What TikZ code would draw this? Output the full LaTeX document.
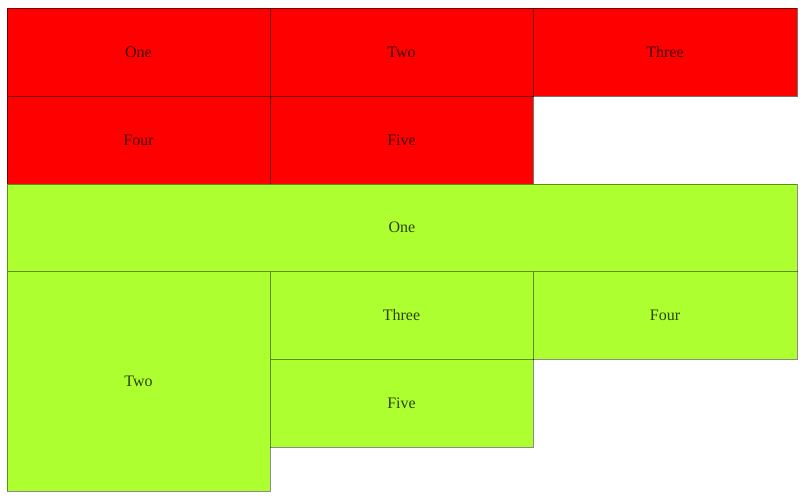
\documentclass[tikz,border=0pt]{standalone}
\usepackage{fontspec}
\setmainfont{Liberation Serif}
\usepackage{tikz}
\usetikzlibrary{positioning}

\tikzset{
  cell/.style={draw=black, draw opacity=0.55, line width=0.7pt, inner sep=0pt, outer sep=0pt,
    minimum width=197.25pt, minimum height=66pt, text=black, text opacity=0.75,
    font=\fontsize{12}{14}\selectfont},
  redcell/.style={cell, fill=red},
  greencell/.style={cell, fill=greenyellow, draw opacity=0.45}
}
\definecolor{greenyellow}{RGB}{173,255,47}

\begin{document}
\begin{tikzpicture}
    \useasboundingbox (0,0) rectangle (605.25pt,-375pt);

    % red block
    \node [redcell, anchor=north west] (redOne) at (5.25pt,-6pt) {One};
    \node [redcell, right=0pt of redOne] (redTwo) {Two};
    \node [redcell, right=0pt of redTwo, minimum width=198pt] (redThree) {Three};
    \node [redcell, below=0pt of redOne] (redFour) {Four};
    \node [redcell, right=0pt of redFour] (redFive) {Five};

    % green block
    \node [greencell, anchor=north west, minimum width=592.5pt, minimum height=65.25pt] (greenOne) at (redFour.south west) {One};
    \node [greencell, anchor=north west, minimum height=165pt] (greenTwo) at (greenOne.south west) {Two};
    \node [greencell, anchor=north west] (greenThree) at (greenTwo.north east) {Three};
    \node [greencell, right=0pt of greenThree, minimum width=198pt] (greenFour) {Four};
    \node [greencell, below=0pt of greenThree] (greenFive) {Five};
\end{tikzpicture}
\end{document}
